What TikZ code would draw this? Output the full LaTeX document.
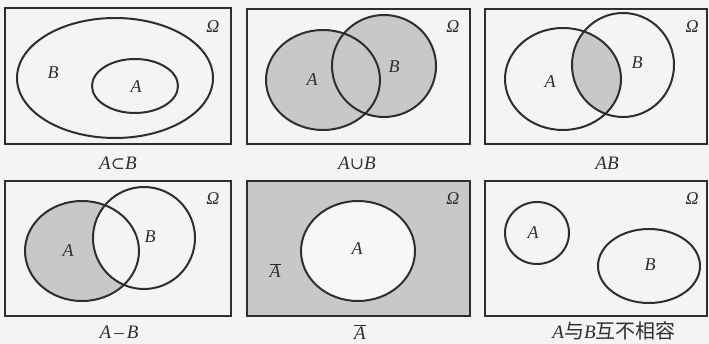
\documentclass[tikz,border=0pt]{standalone}
\usepackage{fontspec}
\setmainfont{Liberation Serif}
\newfontfamily\cjk{Noto Sans CJK SC}
\newfontfamily\symf{DejaVu Serif}
\definecolor{bg}{HTML}{F4F4F4}
\definecolor{ln}{HTML}{2E2E2E}
\definecolor{sh}{HTML}{C8C8C8}
\definecolor{inner}{HTML}{F7F7F7}
\begin{document}
\begin{tikzpicture}[x=1pt,y=-1pt,
  frame/.style={draw=ln,line width=2.1pt},
  set/.style={draw=ln,line width=2pt},
  lab/.style={font=\fontsize{18}{18}\selectfont\itshape,text=ln,inner sep=0pt},
  captext/.style={font=\fontsize{19}{19}\selectfont,text=ln,inner sep=0pt}]
\fill[bg] (0,0) rectangle (709,344);
\useasboundingbox (0,0) rectangle (709,344);

% ---------- Panel 1: A subset B
\draw[frame] (5,8) rectangle (231,144);
\draw[set] (115,78) ellipse [x radius=98, y radius=60];
\draw[set] (135,86) ellipse [x radius=43, y radius=27];
\node[lab] (p1B) at (53,73) {B};
\node[lab] (p1A) at (136,87) {A};
\node[lab] (p1O) at (213,27) {Ω};
\node[captext] (p1c) at (118,163) {\textit{A}{\symf\fontsize{17}{17}\selectfont ⊂}\textit{B}};

% ---------- Panel 2: A union B
\draw[frame] (247,9) rectangle (470,144);
\fill[sh] (323,80) ellipse [x radius=57, y radius=50];
\fill[sh] (384,66) ellipse [x radius=52, y radius=51];
\draw[set] (323,80) ellipse [x radius=57, y radius=50];
\draw[set] (384,66) ellipse [x radius=52, y radius=51];
\node[lab] (p2A) at (312,80) {A};
\node[lab] (p2B) at (394,67) {B};
\node[lab] (p2O) at (453,27) {Ω};
\node[captext] (p2c) at (357,163) {\textit{A}{\symf\fontsize{17}{17}\selectfont ∪}\textit{B}};

% ---------- Panel 3: AB
\draw[frame] (485,9) rectangle (707,144);
\begin{scope}
  \clip (563,79) ellipse [x radius=58, y radius=51];
  \fill[sh] (623,65) ellipse [x radius=51, y radius=52];
\end{scope}
\draw[set] (563,79) ellipse [x radius=58, y radius=51];
\draw[set] (623,65) ellipse [x radius=51, y radius=52];
\node[lab] (p3A) at (550,82) {A};
\node[lab] (p3B) at (637,63) {B};
\node[lab] (p3O) at (692,27) {Ω};
\node[captext] (p3c) at (607,163) {\textit{AB}};

% ---------- Panel 4: A - B
\draw[frame] (5,181) rectangle (231,316);
\fill[sh] (82,251) ellipse [x radius=57, y radius=50];
\begin{scope}
  \clip (82,251) ellipse [x radius=57, y radius=50];
  \fill[bg] (144,238) ellipse [x radius=51, y radius=51];
\end{scope}
\draw[set] (82,251) ellipse [x radius=57, y radius=50];
\draw[set] (144,238) ellipse [x radius=51, y radius=51];
\node[lab] (p4A) at (68,251) {A};
\node[lab] (p4B) at (150,237) {B};
\node[lab] (p4O) at (213,199) {Ω};
\node[captext] (p4c) at (119,332) {\textit{A}\kern3pt–\kern3pt\textit{B}};

% ---------- Panel 5: complement of A
\filldraw[frame,fill=sh] (247,181) rectangle (470,316);
\filldraw[set,fill=inner] (358,251) ellipse [x radius=57, y radius=50];
\node[lab] (p5A) at (357,249) {A};
\node[lab] (p5Ab) at (275,271) {$\overline{\mbox{\itshape A}}$};
\node[lab] (p5O) at (453,199) {Ω};
\node[captext] (p5c) at (360,332) {$\overline{\mbox{\itshape A}}$};

% ---------- Panel 6: A and B mutually exclusive
\draw[frame] (485,181) rectangle (707,316);
\draw[set] (537,233) ellipse [x radius=32, y radius=31];
\draw[set] (649,266) ellipse [x radius=51, y radius=37];
\node[lab] (p6A) at (533,233) {A};
\node[lab] (p6B) at (650,265) {B};
\node[lab] (p6O) at (692,199) {Ω};
\node[captext] (p6c) at (614,331) {\textit{A}{\cjk\fontsize{20}{20}\selectfont 与}\textit{B}{\cjk\fontsize{20}{20}\selectfont 互不相容}};
\end{tikzpicture}
\end{document}
